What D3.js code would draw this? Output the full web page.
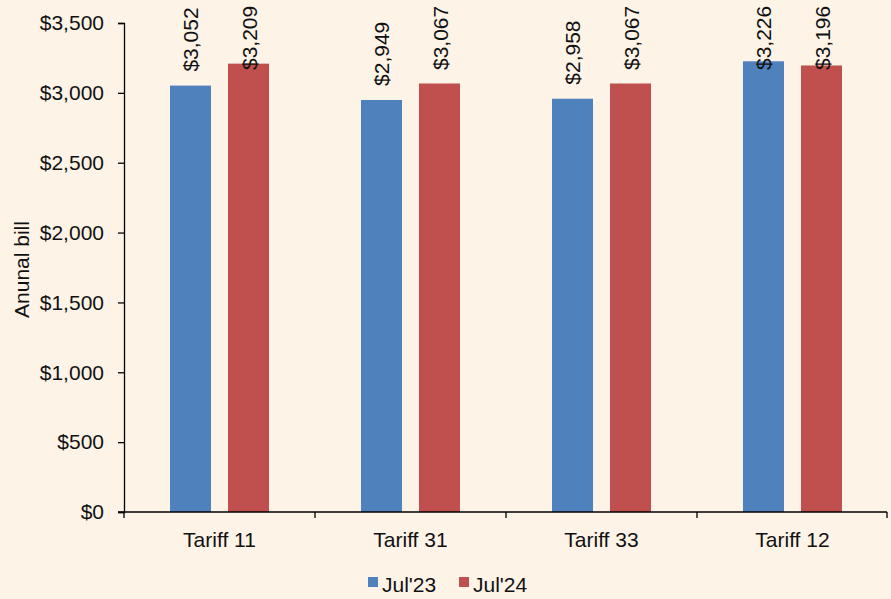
<!DOCTYPE html>
<html>
<head>
    <style>
        body {
            margin: 0;
            background-color: #fdf3e7;
            font-family: "Liberation Sans", Arial, sans-serif;
        }
        svg text {
            fill: #111;
        }
        .domain, .tick line {
            stroke: #000;
            stroke-width: 1.3px;
        }
    </style>
</head>
<body>
    <div id="chart"></div>
    <script src="https://d3js.org/d3.v7.min.js"></script>
    <script>
        var categories = ["Tariff 11", "Tariff 31", "Tariff 33", "Tariff 12"];
        var seriesNames = ["Jul'23", "Jul'24"];
        var jul23 = [3052, 2949, 2958, 3226];
        var jul24 = [3209, 3067, 3067, 3196];
        var yTicks = [0, 500, 1000, 1500, 2000, 2500, 3000, 3500];
        var colors = ["#4f81bd", "#c0504d"];

        var width = 891, height = 599;
        var margin = {top: 23, right: 3, bottom: 87, left: 124};
        var fs = 21;

        var svg = d3.select("#chart").append("svg")
            .attr("width", width)
            .attr("height", height);

        var x0 = d3.scaleBand()
            .domain(categories)
            .range([margin.left, width - margin.right]);

        var x1 = d3.scaleBand()
            .domain(seriesNames)
            .range([0, x0.bandwidth()])
            .paddingInner(0.293)
            .paddingOuter(0.793);

        var y = d3.scaleLinear()
            .domain([0, 3500])
            .range([height - margin.bottom, margin.top]);

        var fmt = d3.format("$,");

        var rows = categories.map(function(c, i) {
            return {cat: c, values: [jul23[i], jul24[i]]};
        });

        // bars
        var groups = svg.append("g").selectAll("g")
            .data(rows)
            .enter().append("g")
            .attr("transform", function(d) { return "translate(" + x0(d.cat) + ",0)"; });

        groups.selectAll("rect")
            .data(function(d) { return d.values.map(function(v, j) { return {s: seriesNames[j], v: v, j: j}; }); })
            .enter().append("rect")
            .attr("x", function(d) { return x1(d.s); })
            .attr("y", function(d) { return y(d.v); })
            .attr("width", x1.bandwidth())
            .attr("height", function(d) { return y(0) - y(d.v); })
            .attr("fill", function(d) { return colors[d.j]; });

        // value labels, rotated, kept inside the plot top
        groups.selectAll("text")
            .data(function(d) { return d.values.map(function(v, j) { return {s: seriesNames[j], v: v}; }); })
            .enter().append("text")
            .attr("transform", function(d) {
                var cx = x1(d.s) + x1.bandwidth() / 2 + 8;
                var by = Math.max(y(d.v) - 14, 70);
                return "translate(" + cx + "," + by + ") rotate(-90)";
            })
            .attr("font-size", fs)
            .text(function(d) { return fmt(d.v); });

        // y axis
        var yAxis = svg.append("g")
            .attr("transform", "translate(" + margin.left + ",0)")
            .call(d3.axisLeft(y).tickValues(yTicks).tickFormat(fmt).tickSize(6).tickPadding(14));
        yAxis.selectAll("text").attr("font-size", fs).attr("font-family", "Liberation Sans, Arial, sans-serif").attr("fill", "#111");

        // x axis with ticks at band edges
        var edges = categories.map(function(c) { return x0(c); }).concat([x0.range()[1] - 1]);
        var xAxis = svg.append("g")
            .attr("transform", "translate(0," + y(0) + ")");
        xAxis.append("line")
            .attr("class", "domain")
            .attr("x1", margin.left - 6).attr("x2", x0.range()[1] - 1)
            .attr("y1", 0).attr("y2", 0);
        xAxis.selectAll("line.tk")
            .data(edges)
            .enter().append("line")
            .attr("class", "tk")
            .attr("stroke", "#000").attr("stroke-width", 1.3)
            .attr("x1", function(d) { return d; }).attr("x2", function(d) { return d; })
            .attr("y1", 0).attr("y2", 6);
        xAxis.selectAll("text")
            .data(categories)
            .enter().append("text")
            .attr("x", function(d) { return x0(d) + x0.bandwidth() / 2; })
            .attr("y", 35)
            .attr("text-anchor", "middle")
            .attr("font-size", fs)
            .text(function(d) { return d; });

        // axis title
        svg.append("text")
            .attr("transform", "translate(29," + ((y(0) + y(3500)) / 2 + 2) + ") rotate(-90)")
            .attr("text-anchor", "middle")
            .attr("font-size", fs)
            .text("Anunal bill");

        // legend
        var legend = svg.append("g").attr("transform", "translate(368,577)");
        var lx = [0, 91];
        seriesNames.forEach(function(s, i) {
            legend.append("rect")
                .attr("x", lx[i]).attr("y", 0)
                .attr("width", 10).attr("height", 10)
                .attr("fill", colors[i]);
            legend.append("text")
                .attr("x", lx[i] + 14).attr("y", 15)
                .attr("font-size", fs)
                .text(s);
        });
    </script>
</body>
</html>
